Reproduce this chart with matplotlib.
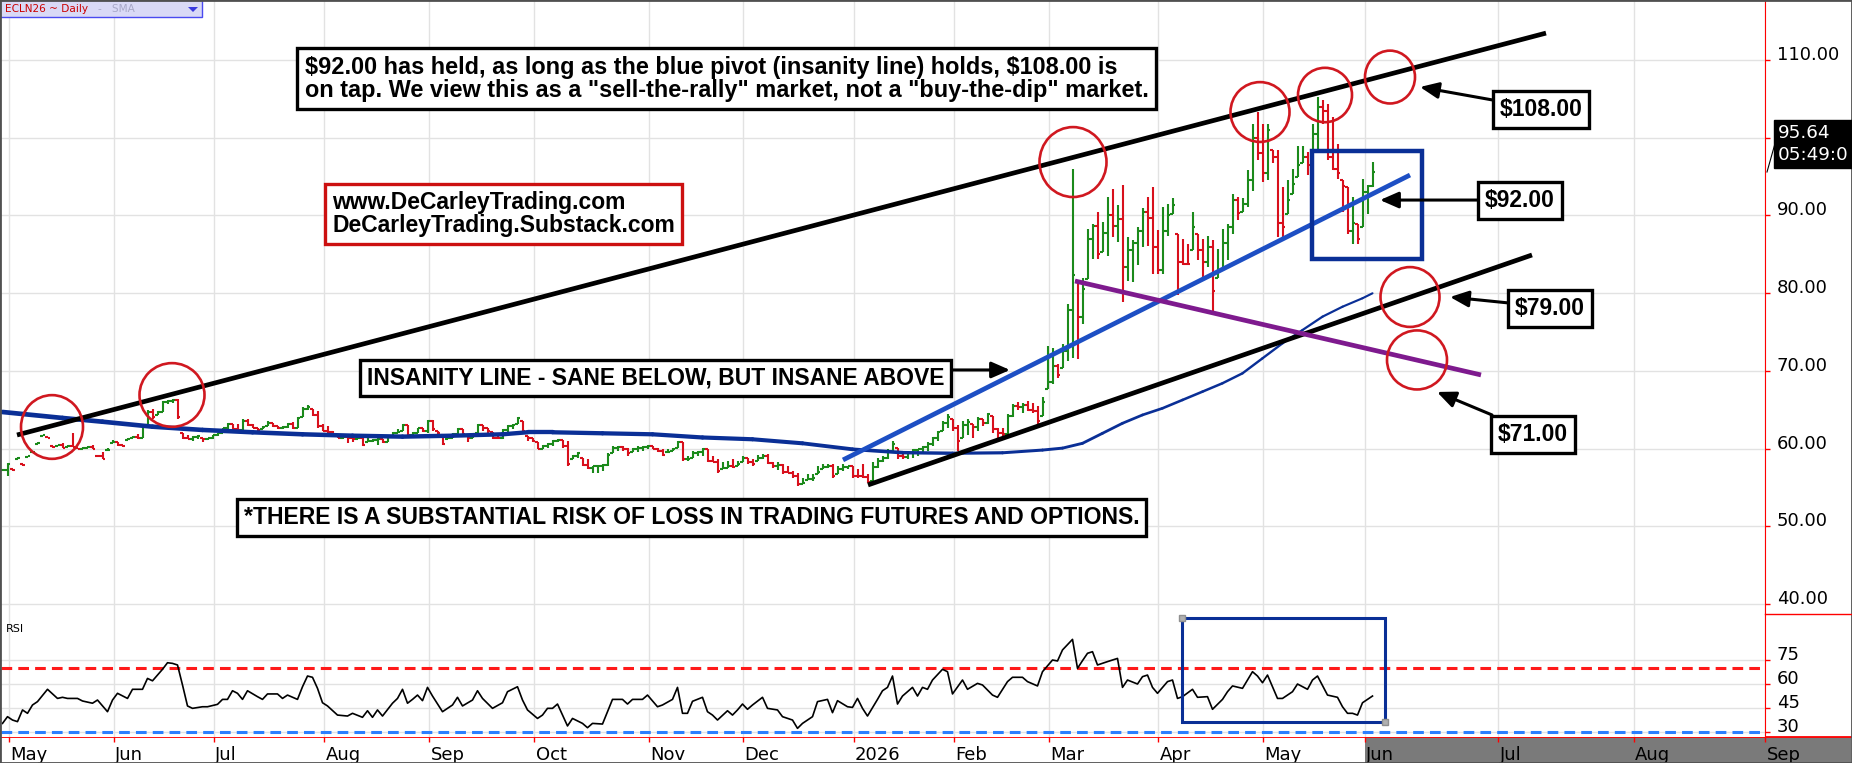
import numpy as np
import matplotlib.pyplot as plt
from matplotlib.patches import Ellipse, Rectangle, Polygon
from matplotlib.collections import LineCollection
from matplotlib.lines import Line2D

# ---------------- data ----------------
# daily bars ECLN26, oldest first
bar_high = [57.4, 58.1, 57.3, 58.9, 58.0, 59.1, 59.7, 60.8, 61.8, 61.5,
            60.3, 60.5, 60.7, 60.4, 62.0, 60.1, 60.2, 60.3, 60.5, 59.1,
            59.5, 60.1, 61.1, 60.8, 60.4, 61.3, 61.6, 61.9, 63.1, 64.9,
            65.1, 64.8, 66.1, 66.3, 66.4, 66.4, 62.0, 61.7, 61.6, 61.7,
            61.4, 61.4, 61.8, 62.0, 62.7, 63.3, 63.2, 63.1, 63.8, 63.8,
            63.1, 62.7, 62.9, 63.5, 63.3, 62.9, 62.9, 63.3, 63.4, 64.0,
            65.3, 65.6, 65.1, 64.8, 63.1, 62.9, 62.2, 61.8, 61.6, 61.6,
            61.6, 61.6, 61.4, 61.3, 61.2, 61.4, 61.2, 61.6, 62.1, 62.5,
            63.1, 63.0, 62.1, 62.7, 62.6, 63.7, 63.7, 62.3, 61.8, 61.8,
            62.0, 62.6, 62.5, 61.8, 62.0, 63.1, 63.0, 62.6, 62.1, 61.8,
            62.5, 63.0, 63.1, 64.0, 63.5, 61.6, 61.4, 60.8, 60.4, 60.7,
            61.1, 61.2, 61.1, 61.0, 59.2, 59.5, 58.8, 58.7, 57.8, 57.8,
            58.0, 59.4, 60.3, 60.3, 60.3, 60.1, 60.1, 60.3, 60.3, 60.4,
            60.3, 60.1, 59.9, 59.9, 60.1, 61.0, 60.9, 59.0, 59.7, 59.7,
            60.1, 59.9, 59.0, 58.6, 58.2, 58.4, 58.6, 58.4, 59.0, 58.8,
            58.6, 59.2, 59.3, 59.3, 58.2, 58.2, 58.0, 57.7, 57.1, 56.9,
            56.2, 56.7, 56.7, 57.7, 58.0, 58.0, 58.0, 57.7, 58.0, 57.7,
            57.7, 57.3, 58.0, 56.7, 58.2, 58.8, 59.0, 59.9, 61.0, 60.1,
            59.7, 59.7, 59.9, 59.9, 60.3, 60.8, 61.5, 62.3, 63.5, 64.4,
            63.8, 63.0, 63.6, 63.8, 63.1, 64.0, 63.8, 64.6, 64.2, 62.7,
            62.7, 64.4, 65.7, 66.0, 65.9, 66.1, 65.9, 65.5, 66.6, 73.2,
            73.0, 70.9, 73.4, 78.6, 96.0, 81.6, 82.0, 88.3, 88.9, 90.4,
            89.1, 92.4, 93.4, 91.3, 93.9, 87.2, 86.8, 88.5, 90.9, 92.4,
            93.7, 88.1, 91.1, 91.5, 92.2, 87.6, 87.0, 86.3, 90.4, 87.6,
            87.0, 87.4, 86.8, 85.7, 88.3, 88.9, 92.8, 92.4, 92.2, 95.8,
            101.8, 103.3, 101.8, 101.8, 98.4, 98.4, 93.7, 94.5, 96.0, 99.0,
            99.0, 98.2, 101.8, 105.3, 104.8, 104.4, 102.7, 99.2, 94.5, 93.7,
            92.4, 88.9, 94.7, 93.9, 96.9]
bar_low = [57.1, 56.5, 57.1, 58.7, 57.8, 58.9, 59.5, 60.6, 61.6, 61.3,
           60.1, 60.3, 60.1, 60.2, 60.3, 59.9, 60.0, 60.1, 59.9, 58.9,
           58.6, 59.8, 60.7, 60.3, 60.2, 61.1, 61.4, 61.2, 61.4, 63.0,
           63.8, 64.3, 64.7, 65.7, 65.9, 63.8, 61.2, 61.2, 61.0, 61.2,
           60.9, 61.1, 61.2, 61.6, 62.0, 62.5, 62.3, 62.3, 62.4, 62.9,
           62.6, 62.3, 62.5, 62.9, 62.8, 62.5, 62.5, 62.7, 62.5, 62.7,
           64.0, 65.0, 64.2, 62.7, 62.2, 62.0, 61.6, 61.3, 61.2, 60.7,
           60.8, 61.2, 60.3, 60.8, 60.8, 60.5, 60.7, 60.8, 61.5, 62.0,
           62.3, 61.6, 61.4, 62.0, 62.1, 62.0, 62.3, 61.8, 60.4, 61.2,
           61.4, 61.8, 61.6, 60.9, 61.3, 62.0, 62.3, 62.0, 61.2, 61.2,
           61.2, 62.0, 62.5, 63.1, 62.0, 61.0, 60.8, 59.9, 59.9, 60.1,
           60.3, 60.8, 60.1, 57.8, 58.6, 58.8, 57.8, 57.3, 56.9, 56.9,
           57.1, 57.7, 59.4, 59.7, 59.7, 59.0, 59.5, 59.5, 59.7, 59.9,
           59.9, 59.5, 59.0, 59.5, 59.7, 60.1, 58.4, 58.4, 58.8, 59.0,
           59.0, 58.2, 58.2, 56.9, 57.3, 57.5, 57.5, 57.7, 58.2, 58.0,
           57.7, 58.4, 58.6, 58.0, 57.5, 57.2, 56.7, 56.9, 56.2, 55.2,
           55.4, 56.0, 55.8, 56.7, 57.4, 57.5, 56.2, 56.7, 57.1, 57.3,
           56.2, 56.2, 56.2, 55.6, 55.8, 57.5, 58.2, 58.6, 59.7, 58.6,
           58.6, 58.6, 58.8, 59.0, 59.5, 59.7, 60.3, 61.0, 62.3, 62.7,
           62.3, 59.7, 61.4, 61.8, 61.4, 62.3, 62.9, 63.1, 62.0, 61.4,
           61.6, 61.6, 64.0, 65.0, 64.6, 64.8, 64.6, 63.1, 64.2, 67.6,
           68.3, 69.1, 70.4, 71.3, 71.7, 71.5, 76.0, 81.8, 84.4, 84.4,
           85.3, 84.8, 87.2, 86.6, 78.8, 81.6, 81.4, 83.6, 85.9, 86.1,
           82.5, 82.5, 82.5, 87.4, 90.2, 79.7, 83.6, 83.6, 85.5, 84.2,
           82.0, 83.3, 77.7, 82.0, 83.1, 84.2, 87.6, 89.4, 90.4, 91.1,
           93.2, 97.1, 94.3, 94.5, 96.7, 87.2, 87.2, 90.2, 92.8, 95.0,
           96.7, 95.2, 98.2, 98.2, 101.8, 97.1, 95.8, 94.7, 90.4, 87.6,
           86.3, 86.3, 88.5, 90.2, 93.7]
bar_close = [57.2, 58.0, 57.2, 58.8, 57.9, 59.0, 59.6, 60.75, 61.7, 61.4,
             60.2, 60.4, 60.1, 60.3, 60.25, 60.0, 60.1, 60.2, 59.9, 59.0,
             58.6, 59.8, 60.8, 60.4, 60.3, 61.2, 61.5, 61.3, 62.9, 64.7,
             64.1, 64.7, 66.0, 66.1, 66.3, 64.0, 61.3, 61.2, 61.5, 61.6,
             61.2, 61.3, 61.7, 62.0, 62.6, 63.2, 62.5, 62.4, 63.6, 63.0,
             62.7, 62.4, 62.8, 63.3, 62.9, 62.6, 62.8, 63.2, 62.6, 63.9,
             65.1, 65.4, 64.3, 62.9, 62.3, 62.1, 61.7, 61.4, 61.5, 61.3,
             61.2, 61.3, 60.4, 61.0, 61.1, 61.2, 60.8, 61.5, 62.0, 62.1,
             63.0, 61.8, 62.0, 62.6, 62.3, 63.5, 62.5, 62.0, 60.6, 61.4,
             61.9, 62.5, 61.9, 61.4, 61.9, 63.0, 62.7, 62.3, 61.4, 61.3,
             62.4, 62.9, 63.0, 63.9, 62.2, 61.4, 61.0, 60.0, 60.3, 60.6,
             61.0, 61.1, 60.3, 58.0, 59.0, 59.4, 57.9, 57.5, 57.7, 57.8,
             57.9, 59.2, 60.1, 60.2, 60.0, 59.4, 59.9, 60.1, 60.2, 60.3,
             60.0, 59.7, 59.2, 59.6, 59.9, 60.8, 58.6, 58.7, 59.4, 59.5,
             59.9, 58.4, 58.3, 57.1, 57.5, 57.7, 57.6, 58.0, 58.8, 58.2,
             58.0, 58.8, 59.0, 58.1, 57.7, 57.9, 57.0, 56.9, 56.4, 55.4,
             55.6, 56.1, 56.2, 57.0, 57.6, 57.7, 56.5, 57.3, 57.6, 57.7,
             56.5, 56.4, 56.3, 55.7, 57.6, 58.4, 58.8, 59.5, 60.6, 59.0,
             58.9, 59.4, 59.8, 59.9, 60.2, 60.6, 61.3, 62.1, 63.3, 64.1,
             62.6, 61.0, 63.0, 63.4, 62.8, 63.8, 63.3, 64.4, 62.5, 62.0,
             61.9, 64.2, 65.5, 65.3, 65.6, 65.0, 64.8, 63.5, 66.0, 68.5,
             70.6, 69.5, 72.5, 77.8, 82.3, 76.9, 80.5, 87.0, 88.7, 85.0,
             87.8, 90.0, 88.7, 89.5, 83.3, 85.5, 86.5, 88.0, 90.5, 89.7,
             86.0, 83.0, 88.0, 90.0, 91.3, 84.0, 83.8, 83.7, 88.5, 85.5,
             84.0, 86.0, 80.3, 83.0, 86.5, 88.5, 92.0, 90.3, 91.5, 94.5,
             100.0, 98.0, 95.5, 101.0, 97.5, 89.0, 88.5, 92.0, 94.0, 96.5,
             97.5, 96.5, 100.5, 104.0, 103.5, 97.5, 96.0, 95.5, 93.8, 88.0,
             89.0, 87.0, 93.0, 93.8, 95.64]

# moving average (bar index, value)
sma_idx = [0, 12, 20, 30, 40, 50, 60, 70, 80, 90, 100, 105, 110, 120, 130,
           140, 150, 160, 170, 180, 190, 200, 208, 212, 216, 220, 224, 228,
           232, 236, 240, 244, 248, 252, 256, 260, 264, 268, 272, 274]
sma_val = [64.70, 63.93, 63.45, 62.81, 62.39, 62.09, 61.83, 61.65, 61.53,
           61.65, 61.83, 62.09, 62.09, 61.96, 61.83, 61.42, 61.19, 60.67,
           59.90, 59.47, 59.39, 59.45, 59.80, 60.05, 60.67, 61.96, 63.25,
           64.32, 65.18, 66.25, 67.32, 68.40, 69.68, 71.61, 73.54, 75.25,
           76.97, 78.25, 79.34, 79.98]

# RSI (bar index, value)
rsi_idx = [0, 1, 2, 3, 4, 5, 6, 7, 9, 11, 12, 13, 15, 16, 18, 19, 21, 22, 23,
           25, 26, 28, 29, 30, 32, 33, 34, 35, 36, 37, 38, 40, 41, 43, 44, 45,
           46, 47, 48, 49, 51, 52, 53, 55, 56, 57, 59, 60, 61, 62, 63, 64, 65,
           67, 69, 70, 72, 73, 74, 75, 76, 78, 79, 80, 81, 82, 83, 84, 85, 86,
           88, 90, 91, 92, 94, 95, 96, 98, 100, 101, 103, 104, 105, 107, 108,
           109, 110, 111, 113, 114, 116, 117, 118, 120, 121, 122, 124, 125,
           126, 128, 129, 131, 132, 134, 135, 136, 137, 138, 140, 141, 142,
           143, 145, 146, 147, 148, 149, 150, 152, 153, 155, 156, 158, 159,
           160, 162, 163, 165, 166, 167, 169, 170, 171, 172, 173, 175, 176,
           177, 178, 179, 180, 181, 182, 183, 184, 185, 186, 188, 189, 190,
           192, 193, 195, 196, 198, 199, 201, 202, 204, 205, 207, 208, 210,
           211, 212, 214, 215, 216, 217, 218, 219, 221, 223, 224, 225, 227,
           228, 229, 230, 231, 233, 234, 235, 236, 238, 239, 241, 242, 244,
           245, 246, 248, 250, 251, 252, 253, 255, 256, 258, 259, 261, 262,
           263, 265, 267, 268, 269, 270, 271, 272, 274]
rsi_val = [35.4, 39.6, 37.5, 36.5, 43.8, 41.7, 46.9, 49.0, 56.7, 51.0, 51.7,
           51.0, 51.0, 49.4, 48.0, 50.0, 42.7, 50.0, 54.2, 51.0, 56.7, 56.7,
           63.5, 62.0, 69.2, 73.3, 72.9, 71.9, 59.4, 46.3, 44.8, 45.8, 45.8,
           47.3, 50.4, 50.4, 55.8, 54.2, 50.4, 55.8, 52.1, 50.4, 53.8, 53.8,
           51.0, 53.1, 50.4, 58.3, 65.0, 64.2, 57.3, 48.3, 46.3, 40.6, 40.0,
           41.7, 39.2, 43.3, 39.2, 43.8, 40.0, 48.0, 51.0, 56.7, 48.0, 50.4,
           53.1, 49.6, 57.9, 52.5, 42.7, 46.9, 51.7, 46.3, 50.0, 55.8, 51.0,
           44.8, 48.3, 55.2, 58.3, 50.0, 43.8, 38.5, 40.6, 44.8, 44.8, 47.5,
           33.8, 38.5, 35.4, 32.7, 35.4, 35.0, 42.7, 50.4, 50.4, 47.5, 50.4,
           50.4, 53.1, 45.8, 46.9, 50.4, 57.9, 41.7, 41.7, 49.2, 51.7, 42.7,
           40.6, 37.5, 43.3, 40.6, 43.8, 47.5, 44.2, 46.9, 51.7, 44.8, 43.8,
           39.6, 37.5, 32.3, 35.4, 39.6, 49.0, 50.4, 42.1, 49.6, 45.8, 45.4,
           51.0, 44.8, 40.0, 50.4, 55.8, 57.9, 65.0, 47.5, 52.5, 55.2, 57.9,
           52.5, 57.9, 56.7, 62.5, 69.2, 67.7, 53.8, 62.5, 56.7, 60.4, 59.4,
           53.1, 51.7, 61.5, 64.2, 64.2, 61.5, 58.8, 67.7, 75.0, 74.4, 81.3,
           87.9, 69.8, 74.6, 79.2, 80.2, 71.9, 74.0, 76.0, 57.9, 62.5, 60.0,
           64.6, 65.6, 57.9, 54.2, 61.5, 62.5, 51.0, 52.1, 56.7, 51.7, 52.1,
           44.2, 50.4, 55.2, 58.8, 57.3, 67.7, 65.0, 60.8, 65.6, 51.0, 51.0,
           55.2, 60.0, 56.7, 62.5, 65.0, 53.1, 51.7, 45.8, 41.7, 41.7, 40.6,
           48.3, 52.5]

month_pos = [1.2, 22.2, 42.2, 64.3, 85.3, 106.3, 129.3, 148.1, 170.2, 190.2,
             209.3, 231.1, 252.1, 272.4, 299.1, 326.2, 352.5]
month_lab = ['May', 'Jun', 'Jul', 'Aug', 'Sep', 'Oct', 'Nov', 'Dec', '2026',
             'Feb', 'Mar', 'Apr', 'May', 'Jun', 'Jul', 'Aug', 'Sep']
price_ticks = [40, 50, 60, 70, 80, 90, 100, 110]
rsi_ticks = [30, 45, 60, 75]
last_price = 95.64

# drawn studies: (bar index, price) end points
upper_line = [(2.9, 61.74), (308.7, 113.47)]
lower_line = [(173.1, 55.31), (305.9, 84.91)]
pivot_line = [(168.1, 58.53), (281.5, 95.20)]
purple_line = [(214.5, 81.56), (295.7, 69.47)]
circles = [(9.9, 62.77), (33.9, 66.89), (214.1, 96.87), (251.5, 103.31),
           (264.5, 105.50), (277.5, 107.81), (281.5, 79.50), (282.9, 71.40)]
circle_size = [(12.4, 8.2), (13.0, 8.2), (13.4, 9.0), (11.8, 7.7),
               (10.8, 7.0), (10.0, 6.8), (11.8, 7.7), (12.0, 7.6)]

# ---------------- figure ----------------
W, H = 1852, 763
fig = plt.figure(figsize=(W / 100, H / 100), dpi=100)
fig.patch.set_facecolor('white')


def px_box(x0, y0, x1, y1):
    return [x0 / W, 1 - y1 / H, (x1 - x0) / W, (y1 - y0) / H]


GREEN = '#1b8a1b'
RED = '#d8101c'
NAVY = '#0a2f96'
BLUE = '#1d4fc4'
PURPLE = '#7e1a8e'
CIRC = '#d01820'
GRID = '#e2e2e2'
SANS = ['Liberation Sans', 'DejaVu Sans']

ax_lab = fig.add_axes(px_box(1, 737, 1851, 763))
ax = fig.add_axes(px_box(1, 1, 1765, 614))
ax_rsi = fig.add_axes(px_box(1, 614, 1765, 737), sharex=ax)

ax.set_xlim(-0.3, 352.5)
ax.set_ylim(38.7, 117.6)
ax_rsi.set_ylim(26.9, 103.75)
ax_lab.set_xlim(-0.3, 369.7)
ax_lab.set_ylim(0, 1)

# ---- price bars
hi = np.array(bar_high)
lo = np.array(bar_low)
cl = np.array(bar_close)
x = np.arange(len(cl))
prev = np.r_[cl[0], cl[:-1]]
op = np.clip(prev, lo, hi)
col = np.where(cl >= prev, GREEN, RED)
ax.vlines(x, lo, hi, colors=col, lw=1.5, zorder=3)
ax.hlines(op, x - 0.5, x, colors=col, lw=1.5, zorder=3)
ax.hlines(cl, x, x + 0.5, colors=col, lw=1.5, zorder=3)

# ---- moving average, tapering stroke
pts = np.column_stack([sma_idx, sma_val])
segs = np.stack([pts[:-1], pts[1:]], axis=1)
mid = (pts[:-1, 0] + pts[1:, 0]) / 2
widths = np.interp(mid, [0, 150, 200, 275], [3.4, 3.0, 2.2, 1.5])
ax.add_collection(LineCollection(segs, colors=NAVY, linewidths=widths,
                                 capstyle='round', zorder=4))

# ---- drawn lines
for (p0, p1), c in [(upper_line, 'black'), (lower_line, 'black'),
                    (pivot_line, BLUE), (purple_line, PURPLE)]:
    ax.plot([p0[0], p1[0]], [p0[1], p1[1]], color=c, lw=3.4,
            solid_capstyle='butt', zorder=5)

for (cx, cy), (w, h) in zip(circles, circle_size):
    ax.add_patch(Ellipse((cx, cy), w, h, fill=False, ec=CIRC, lw=1.9, zorder=6))

ax.add_patch(Rectangle((261.9, 84.39), 22.0, 13.9, fill=False, ec=NAVY,
                       lw=3.2, zorder=6))

# ---- text notes
note_kw = dict(fontfamily=SANS, fontweight='bold', parse_math=False,
               zorder=8, linespacing=1.0)
box_k = dict(boxstyle='square,pad=0.3', fc='white', ec='black', lw=2.4)

ax.text(144.8, 107.62,
        '$92.00 has held, as long as the blue pivot (insanity line) holds, $108.00 is\n'
        'on tap. We view this as a "sell-the-rally" market, not a "buy-the-dip" market.',
        ha='center', va='center', multialignment='left', fontsize=16.9,
        bbox=dict(box_k, boxstyle='square,pad=0.33'), **note_kw)
ax.text(100.2, 90.18, 'www.DeCarleyTrading.com\nDeCarleyTrading.Substack.com',
        ha='center', va='center', multialignment='left', fontsize=16.5,
        bbox=dict(box_k, ec='#cc1010'), **note_kw)
ax.text(130.6, 69.08, 'INSANITY LINE - SANE BELOW, BUT INSANE ABOVE',
        ha='center', va='center', fontsize=16.5, bbox=box_k, **note_kw)
ax.text(137.8, 51.13,
        '*THERE IS A SUBSTANTIAL RISK OF LOSS IN TRADING FUTURES AND OPTIONS.',
        ha='center', va='center', fontsize=16.6, bbox=box_k, **note_kw)

for label, cx, cy in [('$108.00', 307.7, 103.63), ('$92.00', 303.5, 91.92),
                      ('$79.00', 309.5, 78.02), ('$71.00', 306.1, 61.81)]:
    ax.text(cx, cy, label, ha='center', va='center', fontsize=16.5,
            bbox=box_k, **note_kw)

arrow_kw = dict(arrowstyle='-|>,head_length=0.8,head_width=0.35',
                color='black', lw=2.2, mutation_scale=14, shrinkA=0, shrinkB=0)
for tail, tip in [((298.1, 104.85), (283.5, 106.53)),
                  ((295.1, 91.98), (275.5, 91.98)),
                  ((301.3, 78.73), (289.5, 79.50)),
                  ((297.9, 64.32), (286.9, 67.28)),
                  ((190.1, 70.11), (201.5, 70.11))]:
    ax.annotate('', xy=tip, xytext=tail, arrowprops=arrow_kw, zorder=7)

# ---- price axis (100.00 sits under the last-price flag)
ax.set_xticks(month_pos)
ax.grid(True, color=GRID, lw=1, zorder=0)
ax.set_axisbelow(True)
ax.tick_params(axis='x', length=0, labelbottom=False)
ax.yaxis.tick_right()
ax.set_yticks(price_ticks)
ax.set_yticklabels(['' if v == 100 else f'{v:.2f}' for v in price_ticks])
ax.tick_params(axis='y', direction='out', length=3.6, width=1, color='red',
               pad=5, labelsize=13, labelcolor='black')
for t in ax.get_yticklabels():
    t.set_va('baseline')
for s in ['top', 'left', 'bottom']:
    ax.spines[s].set_visible(False)
ax.spines['right'].set_color('red')

# ---- RSI panel
ax_rsi.plot(rsi_idx, rsi_val, color='black', lw=1.2, zorder=3)
ax_rsi.axhline(70, color='#ff1a1a', lw=2.2, ls=(0, (3.5, 2)), zorder=2)
ax_rsi.axhline(30, color='#2b7fff', lw=2.2, ls=(0, (3.5, 2)), zorder=2)
ax_rsi.add_patch(Rectangle((235.9, 36.25), 40.6, 65.0, fill=False, ec=NAVY,
                           lw=2.2, zorder=4))
ax_rsi.plot([235.9, 276.5], [101.25, 36.25], ls='none', marker='s', ms=4,
            mfc='#b0b0b0', mec='#909090', zorder=5)
ax_rsi.set_yticks(rsi_ticks)
ax_rsi.set_yticklabels([str(v) for v in rsi_ticks])
ax_rsi.yaxis.tick_right()
ax_rsi.grid(True, color=GRID, lw=1, zorder=0)
ax_rsi.set_axisbelow(True)
ax_rsi.tick_params(axis='y', direction='out', length=3.6, width=1, color='red',
                   pad=5, labelsize=13, labelcolor='black')
for t in ax_rsi.get_yticklabels():
    t.set_va('baseline')
ax_rsi.tick_params(axis='x', direction='out', length=3.6, width=1, color='red',
                   labelbottom=False)
for s in ['top', 'left', 'bottom']:
    ax_rsi.spines[s].set_visible(False)
ax_rsi.spines['right'].set_color('red')
ax_rsi.text(0.003, 0.92, 'RSI', transform=ax_rsi.transAxes, fontsize=8,
            fontfamily='DejaVu Sans', va='top')

# ---- date label row
ax_lab.axvspan(month_pos[13], 369.7, color='#7a7a7a', lw=0)
for p, lab in zip(month_pos, month_lab):
    ax_lab.text(p + 0.3, 0.12, lab, ha='left', va='baseline', fontsize=13,
                fontfamily='DejaVu Sans', color='black')
ax_lab.set_xticks([])
ax_lab.set_yticks([])
for s in ['left', 'right', 'bottom']:
    ax_lab.spines[s].set_visible(False)
ax_lab.spines['top'].set_color('red')
ax_lab.spines['top'].set_linewidth(1.3)

# red separator in the scale column
fig.add_artist(Line2D([1765 / W, 1], [1 - 614 / H] * 2, color='red', lw=1))

# last price flag
fig.add_artist(Line2D([1767 / W, 1776 / W], [1 - 172 / H, 1 - 140 / H],
                      color='black', lw=0.8))
fig.text(1778 / W, 1 - 144 / H, f'{last_price:.2f}\n05:49:0', color='white',
         fontsize=13.2, fontfamily='DejaVu Sans', va='center', ha='left',
         linespacing=1.3,
         bbox=dict(boxstyle='square,pad=0.22', fc='black', ec='black'))

# symbol caption top-left
fig.add_artist(Rectangle((0, 1 - 17 / H), 202 / W, 17 / H, transform=fig.transFigure,
                         fc='#d9d9f6', ec='#4a4af0', lw=1))
fig.text(5 / W, 1 - 9 / H, 'ECLN26 ~ Daily', color='#cc0000', fontsize=7.6,
         fontfamily='DejaVu Sans', va='center')
fig.text(98 / W, 1 - 9 / H, '-   SMA', color='#a8a8c8', fontsize=7.6,
         fontfamily='DejaVu Sans', va='center')
fig.add_artist(Polygon([[188 / W, 1 - 7 / H], [198 / W, 1 - 7 / H],
                        [193 / W, 1 - 12 / H]], closed=True,
                       transform=fig.transFigure, fc='#3a3ae0', ec='none'))

# outer frame
fig.add_artist(Rectangle((0, 0), 1, 1, transform=fig.transFigure, fill=False,
                         ec='#505050', lw=2))

fig.savefig('out.png', dpi=100)
